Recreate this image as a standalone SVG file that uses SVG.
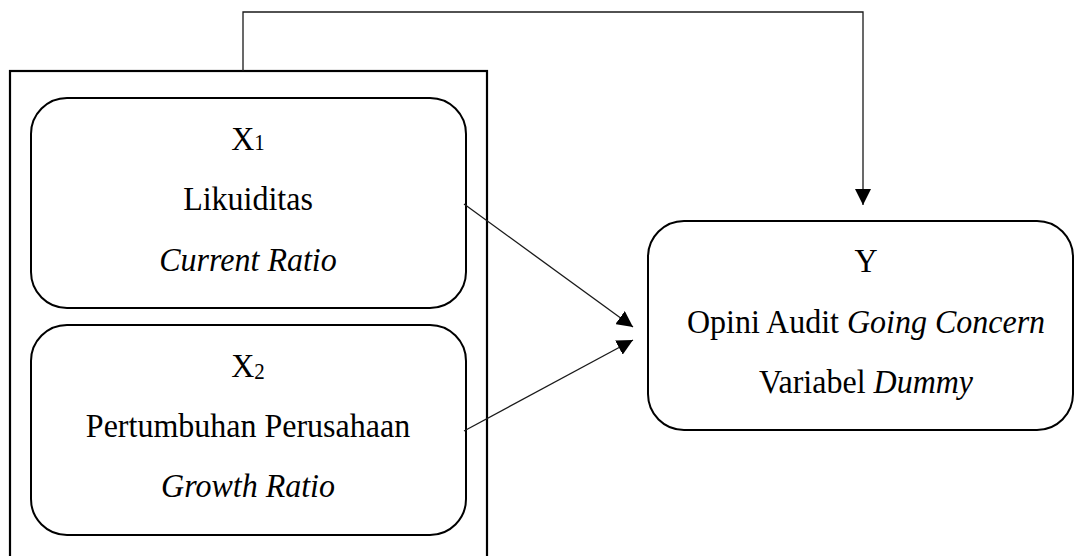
<svg xmlns="http://www.w3.org/2000/svg" width="1076" height="556" viewBox="0 0 1076 556">
<style>
.box{fill:#fff;stroke:#000;stroke-width:2}
.outer{fill:none;stroke:#000;stroke-width:2.2}
.t{font-family:"Liberation Serif","Times New Roman",serif;font-size:32px;fill:#000;text-anchor:middle}
.i{font-style:italic}
.sub{font-size:21px}
.c{fill:none;stroke:#1a1a1a;stroke-width:1.3}
</style>
<defs>
<marker id="ah" viewBox="0 0 10 10" refX="10" refY="5" markerWidth="16" markerHeight="16" markerUnits="userSpaceOnUse" orient="auto">
<path d="M0,0 L10,5 L0,10 Z" fill="#000"/>
</marker>
</defs>
<rect id="group-x" class="outer" x="10" y="71" width="477" height="500"/>
<g id="x1">
<rect class="box" x="31" y="98" width="435" height="210" rx="36" ry="36"/>
<text class="t" transform="translate(248,150) scale(1,1.08)">X<tspan class="sub">1</tspan></text>
<text class="t" transform="translate(248,210) scale(1,1.08)">Likuiditas</text>
<text class="t i" transform="translate(248,271) scale(1,1.08)">Current Ratio</text>
</g>
<g id="x2">
<rect class="box" x="31" y="325" width="435" height="210" rx="36" ry="36"/>
<text class="t" transform="translate(248,377) scale(1,1.08)">X<tspan class="sub" dy="2">2</tspan></text>
<text class="t" transform="translate(248,437) scale(1,1.08)">Pertumbuhan Perusahaan</text>
<text class="t i" transform="translate(248,497) scale(1,1.08)">Growth Ratio</text>
</g>
<g id="y">
<rect class="box" x="648" y="221" width="425" height="209" rx="36" ry="36"/>
<text class="t" transform="translate(866,272) scale(1,1.08)">Y</text>
<text class="t" transform="translate(866,333) scale(1,1.08)">Opini Audit <tspan class="i">Going Concern</tspan></text>
<text class="t" transform="translate(866,393) scale(1,1.08)">Variabel <tspan class="i">Dummy</tspan></text>
</g>
<g id="connectors">
<path class="c" d="M243,71 V12 H863 V205" marker-end="url(#ah)"/>
<path class="c" d="M464,204 L633,327" marker-end="url(#ah)"/>
<path class="c" d="M464,431 L633,340" marker-end="url(#ah)"/>
</g>
</svg>
